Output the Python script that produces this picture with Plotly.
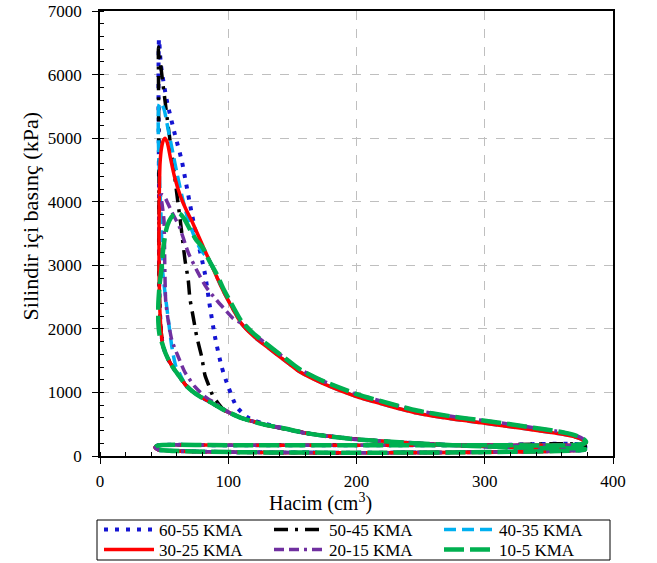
import plotly.graph_objects as go

# ---------------- data (V in cm3, P in kPa) ----------------
SERIES_NAMES = ["60-55 KMA", "50-45 KMA", "40-35 KMA", "30-25 KMA", "20-15 KMA", "10-5 KMA"]

# shared intake / exhaust lines
INTAKE_V = [45, 378]
INTAKE_P = [100, 100]
EXHAUST_V = [370, 300, 200, 100, 45, 43, 45]
EXHAUST_P = [172, 170, 170, 168, 165, 135, 100]

# shared compression curve (from BDC to TDC)
COMP_V = [378, 350, 320, 290, 260, 230, 200, 180, 160, 143, 130, 120, 110, 100, 96, 90, 84, 78, 72, 67, 62, 58, 54, 51, 49]
COMP_P = [112, 122, 138, 158, 185, 220, 262, 305, 362, 436, 485, 540, 600, 690, 730, 800, 870, 935, 1020, 1110, 1250, 1360, 1490, 1620, 1740]

# outer expansion curve (30-25 KMA)
OUTER_V = [91, 96, 104, 110, 120, 130, 148, 156, 175, 200, 225, 247, 275, 300, 320, 338, 355, 364, 372, 377, 379, 377, 370]
OUTER_P = [2820, 2600, 2300, 2090, 1880, 1720, 1440, 1320, 1130, 935, 790, 675, 580, 515, 460, 410, 360, 330, 290, 245, 210, 185, 172]
OUTER_HI_P = [2860, 2640, 2340, 2130, 1920, 1760, 1480, 1360, 1170, 975, 830, 715, 620, 555, 500, 445, 395, 360, 315, 265, 220, 190, 175]

# 60-55 KMA
S1_RISE_V = [47.5, 46.5, 46.0, 46.0, 46.0, 45.8, 45.6, 46.0]
S1_RISE_P = [2000, 2400, 3000, 3600, 4200, 5000, 6000, 6560]
S1_EXP_V = [47.5, 52, 58.5, 63.7, 67, 71.5, 75.4, 81.8, 85.7, 89.6, 94.9, 100, 106.5, 114.3, 120, 126]
S1_EXP_P = [6150, 5600, 5050, 4650, 4300, 3820, 3450, 2870, 2350, 1880, 1400, 1090, 775, 618, 560, 520]
S1_BACK_V = [143, 160, 200, 260, 320, 378, 378]
S1_BACK_P = [436, 362, 262, 185, 138, 112, 170]

# 50-45 KMA
S2_RISE_V = [47.5, 46.5, 46.0, 46.0, 46.0, 45.8, 45.6, 45.6]
S2_RISE_P = [2000, 2400, 3000, 3600, 4200, 5000, 6000, 6435]
S2_EXP_V = [47, 50, 53.2, 57, 60.2, 63, 66.3, 68.8, 70.1, 73, 75.4, 79.3, 81.8, 85, 88.3, 91, 96]
S2_EXP_P = [6200, 5700, 5180, 4600, 4077, 3640, 3080, 2770, 2480, 2150, 1880, 1560, 1275, 1100, 930, 860, 740]
S2_BACK_V = [110, 130, 160, 200, 260, 320, 378, 378]
S2_BACK_P = [600, 485, 362, 262, 185, 138, 112, 170]

# 40-35 KMA
S3_COMP_END = 20  # index in COMP where the curve leaves the shared compression line (V=67)
S3_RISE_V = [62, 59, 56, 53, 50.5, 48.8, 48.1, 47.5, 46.5, 45.6, 45.4, 46, 47.5]
S3_RISE_P = [1300, 1420, 1720, 2190, 2600, 2920, 3400, 3800, 4300, 4900, 5300, 5520, 5560]
S3_EXP_V = [50, 53, 56, 60, 64, 69, 74, 79, 85]
S3_EXP_P = [5450, 5150, 4850, 4450, 4080, 3700, 3430, 3230, 3090]

# 30-25 KMA
S4_RISE_V = [47.5, 46.5, 46.0, 46.0, 46.3, 46.8, 48.0, 49.5, 50.7]
S4_RISE_P = [2000, 2400, 3000, 3600, 4200, 4600, 4850, 4970, 5000]
S4_EXP_V = [52.5, 55, 58, 62.5, 67, 71.5, 80.5]
S4_EXP_P = [4930, 4680, 4400, 4100, 3880, 3700, 3290]

# 20-15 KMA
S5_COMP_END = 14  # V=96
S5_RISE_V = [90, 82, 74, 66, 61, 56, 53, 51.2, 50.5, 49.9, 48.5, 47.5]
S5_RISE_P = [830, 932, 1090, 1325, 1561, 1824, 2150, 2450, 3000, 3700, 3950, 4100]
S5_EXP_V = [48.5, 50, 53, 57, 62, 69, 76, 83, 91, 98, 104, 112]
S5_EXP_P = [4110, 4090, 3970, 3800, 3600, 3190, 2900, 2650, 2450, 2290, 2160, 2070]

# 10-5 KMA
S6_RISE_V = [46.5, 45.5, 45.5, 46.5, 48, 49.5, 51.5, 54, 57, 60, 63, 66, 70, 75, 80, 85]
S6_RISE_P = [1900, 2100, 2400, 2700, 2950, 3300, 3550, 3700, 3790, 3825, 3800, 3720, 3570, 3400, 3280, 3080]

COLORS = ["#1414D2", "#000000", "#00B0F0", "#FF0000", "#7030A0", "#00B050"]
DASHES = ["4px,7px", "14px,7px,3px,7px", "12px,6px", "solid", "10px,5px,10px,5px,3px,5px", "20px,6px"]
WIDTHS = [4, 3.5, 3.5, 3.5, 3.5, 4.5]
LEGEND_ROW = ["legend", "legend", "legend", "legend2", "legend2", "legend2"]

# ---------------- assemble loops ----------------
def outer_from(vmin, hi=False):
    vs, ps = [], []
    src = OUTER_HI_P if hi else OUTER_P
    for v, p in zip(OUTER_V, src):
        if v >= vmin:
            vs.append(v)
            ps.append(p)
    return vs, ps

loops = []
# 60-55
v = INTAKE_V + COMP_V + S1_RISE_V + S1_EXP_V + S1_BACK_V + EXHAUST_V[1:]
p = INTAKE_P + COMP_P + S1_RISE_P + S1_EXP_P + S1_BACK_P + EXHAUST_P[1:]
loops.append((v, p))
# 50-45
v = INTAKE_V + COMP_V + S2_RISE_V + S2_EXP_V + S2_BACK_V + EXHAUST_V[1:]
p = INTAKE_P + COMP_P + S2_RISE_P + S2_EXP_P + S2_BACK_P + EXHAUST_P[1:]
loops.append((v, p))
# 40-35
ov, op = outer_from(91)
v = INTAKE_V + COMP_V[:S3_COMP_END] + S3_RISE_V + S3_EXP_V + ov + EXHAUST_V
p = INTAKE_P + COMP_P[:S3_COMP_END] + S3_RISE_P + S3_EXP_P + op + EXHAUST_P
loops.append((v, p))
# 30-25
ov, op = outer_from(91)
v = INTAKE_V + COMP_V + S4_RISE_V + S4_EXP_V + ov + EXHAUST_V
p = INTAKE_P + COMP_P + S4_RISE_P + S4_EXP_P + op + EXHAUST_P
loops.append((v, p))
# 20-15
ov, op = outer_from(120, hi=True)
v = INTAKE_V + COMP_V[:S5_COMP_END] + S5_RISE_V + S5_EXP_V + ov + EXHAUST_V
p = INTAKE_P + COMP_P[:S5_COMP_END] + S5_RISE_P + S5_EXP_P + op + EXHAUST_P
loops.append((v, p))
# 10-5
ov, op = outer_from(91, hi=True)
v = INTAKE_V + COMP_V + S6_RISE_V + ov + EXHAUST_V
p = INTAKE_P + COMP_P + S6_RISE_P + op + EXHAUST_P
loops.append((v, p))

FONT = "Liberation Serif"
fig = go.Figure()
for name, (vv, pp), c, d, w, lg in zip(SERIES_NAMES, loops, COLORS, DASHES, WIDTHS, LEGEND_ROW):
    fig.add_trace(go.Scatter(
        x=vv, y=pp, name=name, mode="lines", legend=lg,
        line=dict(color=c, dash=d, width=w, shape="spline", smoothing=0.6),
    ))

axis_common = dict(
    showline=True, linecolor="black", linewidth=1.5, mirror=True,
    ticks="outside", ticklen=6, tickcolor="black", tickwidth=1,
    showgrid=True, gridcolor="#BFBFBF", griddash="dash", gridwidth=1,
    zeroline=False, automargin=False,
    tickfont=dict(family=FONT, size=17, color="black"),
)
fig.update_xaxes(range=[0, 400], tickvals=[0, 100, 200, 300, 400],
                 minor=dict(dtick=20, ticks="inside", ticklen=4, tickcolor="black", showgrid=False),
                 ticklabelstandoff=3, **axis_common)
fig.update_yaxes(range=[0, 7000], tickvals=[0, 1000, 2000, 3000, 4000, 5000, 6000, 7000],
                 minor=dict(dtick=200, ticks="inside", ticklen=4, tickcolor="black", showgrid=False),
                 ticklabelstandoff=7, **axis_common)

legend_common = dict(
    orientation="h", xref="container", yref="container",
    x=99 / 657, xanchor="left", yanchor="middle",
    borderwidth=0, bgcolor="rgba(0,0,0,0)",
    font=dict(family=FONT, size=17, color="black"),
    itemwidth=50, entrywidth=105, entrywidthmode="pixels", tracegroupgap=0,
)

fig.update_layout(
    width=657, height=563,
    margin=dict(l=100, r=44, t=11, b=107, autoexpand=False),
    paper_bgcolor="white", plot_bgcolor="white",
    font=dict(family=FONT, color="black"),
    legend=dict(y=1 - 530 / 563, **legend_common),
    legend2=dict(y=1 - 550 / 563, **legend_common),
    shapes=[
        dict(type="rect", xref="paper", yref="paper",
             x0=(97 - 100) / 513, x1=(610 - 100) / 513,
             y0=(456 - 520) / 445, y1=(456 - 560) / 445,
             line=dict(color="black", width=1), fillcolor="rgba(0,0,0,0)", layer="below"),
    ],
    annotations=[
        dict(text="Hacim (cm<sup>3</sup>)", xref="paper", yref="paper",
             x=0.429, y=-0.1056, xanchor="center", yanchor="middle", showarrow=False,
             font=dict(family=FONT, size=20, color="black")),
        dict(text="Silindir içi basınç (kPa)", xref="paper", yref="paper",
             x=-0.136, y=0.539, xanchor="center", yanchor="middle", showarrow=False,
             textangle=-90, font=dict(family=FONT, size=22, color="black")),
    ],
    showlegend=True,
)

fig.write_html("out.html")
